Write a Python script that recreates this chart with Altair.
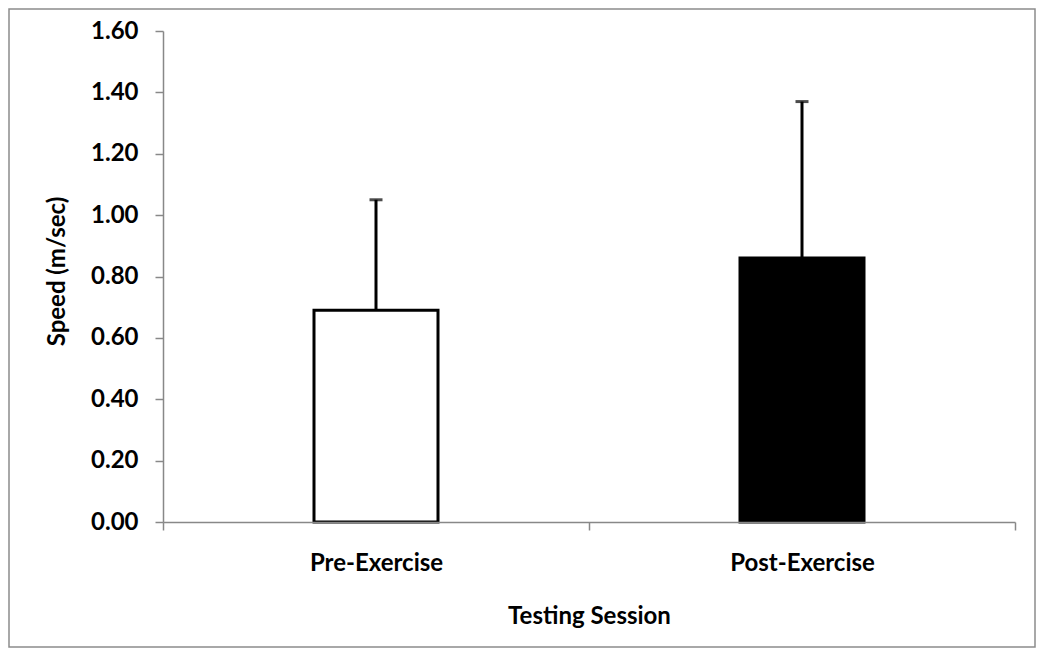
import altair as alt
import pandas as pd

sessions = ["Pre-Exercise", "Post-Exercise"]
speed = [0.69, 0.86]
speed_upper = [1.05, 1.37]
fills = ["#ffffff", "#000000"]
y_ticks = [0.0, 0.2, 0.4, 0.6, 0.8, 1.0, 1.2, 1.4, 1.6]

df = pd.DataFrame({"session": sessions, "speed": speed, "upper": speed_upper, "fill": fills})

FONT = "Lato"
GRAY = "#888888"
FS = 24

x_enc = alt.X(
    "session:N",
    sort=sessions,
    scale=alt.Scale(paddingInner=0, paddingOuter=0),
    axis=alt.Axis(
        title="Testing Session",
        labelAngle=0,
        labelFont=FONT, labelFontSize=FS, labelFontWeight="bold", labelColor="#000000",
        labelPadding=21,
        tickBand="extent", tickSize=8, tickColor=GRAY, tickWidth=1.5,
        domainColor=GRAY, domainWidth=1.5,
        titleFont=FONT, titleFontSize=FS, titleFontWeight="bold", titleColor="#000000",
        titleBaseline="alphabetic", titleY=101, titleAnchor="middle",
        zindex=1,
    ),
)

y_scale = alt.Scale(domain=[0, 1.6], nice=False)
y_enc = alt.Y(
    "speed:Q",
    scale=y_scale,
    axis=alt.Axis(
        title="Speed (m/sec)",
        values=y_ticks, format=".2f", grid=False,
        labelFont=FONT, labelFontSize=FS, labelFontWeight="bold", labelColor="#000000",
        labelPadding=17,
        tickSize=8, tickColor=GRAY, tickWidth=1.5,
        domainColor=GRAY, domainWidth=1.5,
        titleFont=FONT, titleFontSize=FS, titleFontWeight="bold", titleColor="#000000",
        titleX=-106, titleY=240, titleAngle=-90, titleBaseline="middle", titleAlign="center",
        zindex=1,
    ),
)

bars = alt.Chart(df).mark_bar(width=124, stroke="#000000", strokeWidth=3).encode(
    x=x_enc,
    y=y_enc,
    fill=alt.Fill("fill:N", scale=None),
)

err = alt.Chart(df).mark_rule(color="#000000", strokeWidth=3).encode(
    x=alt.X("session:N", sort=sessions),
    y=alt.Y("speed:Q", scale=y_scale),
    y2="upper:Q",
)

caps = alt.Chart(df).mark_tick(color="#000000", thickness=3, size=13).encode(
    x=alt.X("session:N", sort=sessions),
    y=alt.Y("upper:Q", scale=y_scale),
)

frame = alt.Chart(alt.Data(values=[{"a": 1}])).mark_rect(
    fill=None, stroke="#8c8c8c", strokeWidth=1.5
).encode(
    x=alt.value(-154), x2=alt.value(872), y=alt.value(-22), y2=alt.value(616)
)

chart = alt.layer(frame, bars, err, caps).properties(
    width=852,
    height=491,
    padding={"left": 155, "top": 23, "right": 21, "bottom": 126},
    autosize=alt.AutoSizeParams(type="none"),
    background="#ffffff",
).configure_view(stroke=None)

chart.save("out.html", embed_options={"renderer": "svg", "actions": False})
